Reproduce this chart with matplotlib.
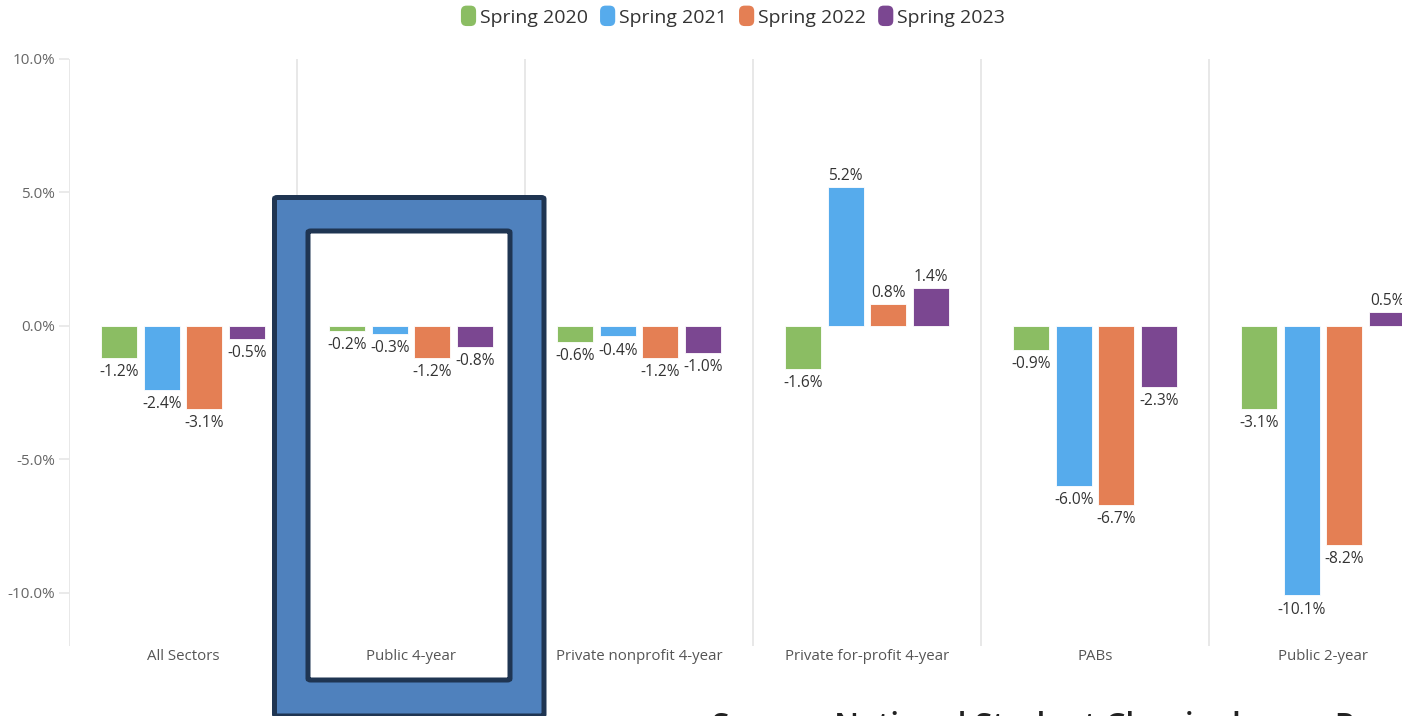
import matplotlib
matplotlib.use("Agg")
import matplotlib.pyplot as plt
from matplotlib.patches import FancyBboxPatch, Patch
from matplotlib.legend_handler import HandlerPatch
import numpy as np

plt.rcParams['font.family'] = ['Open Sans', 'DejaVu Sans']

categories = ["All Sectors", "Public 4-year", "Private nonprofit 4-year",
              "Private for-profit 4-year", "PABs", "Public 2-year"]
series_names = ["Spring 2020", "Spring 2021", "Spring 2022", "Spring 2023"]
spring2020 = [-1.2, -0.2, -0.6, -1.6, -0.9, -3.1]
spring2021 = [-2.4, -0.3, -0.4, 5.2, -6.0, -10.1]
spring2022 = [-3.1, -1.2, -1.2, 0.8, -6.7, -8.2]
spring2023 = [-0.5, -0.8, -1.0, 1.4, -2.3, 0.5]
yticks = [-10, -5, 0, 5, 10]
colors = ["#8bbd63", "#56abec", "#e47f54", "#7b4791"]

W, H = 1402, 716
fig = plt.figure(figsize=(W / 100, H / 100), dpi=100)
ax_left, ax_top, ax_bottom = 69, 59, 646
ax = fig.add_axes([ax_left / W, 1 - ax_bottom / H, 1368 / W, (ax_bottom - ax_top) / H])
ax.patch.set_alpha(0)

x = np.arange(len(categories))
bw = 0.158
step = 0.1873
data = [spring2020, spring2021, spring2022, spring2023]
for i, (vals, c) in enumerate(zip(data, colors)):
    pos = x + (i - 1.5) * step
    ax.bar(pos, vals, width=bw, color=c, zorder=3, edgecolor='white', linewidth=0.6)
    for xp, v in zip(pos, vals):
        if v < 0:
            ax.annotate(f"{v:.1f}%", (xp, v), xytext=(0, -4.5), textcoords='offset points',
                        ha='center', va='top', fontsize=11.2, color='#333333', zorder=4)
        else:
            ax.annotate(f"{v:.1f}%", (xp, v), xytext=(0, 2.5), textcoords='offset points',
                        ha='center', va='bottom', fontsize=11.2, color='#333333', zorder=4)

ax.set_xlim(-0.5, 5.5)
ax.set_ylim(-12, 10)
for b in np.arange(-0.5, 5.0, 1.0):
    ax.axvline(b, color='#e6e6e6', lw=1.3, zorder=0.5)

for s in ax.spines.values():
    s.set_visible(False)
ax.set_yticks(yticks)
ax.set_yticklabels([f"{t:.1f}%" for t in yticks])
ax.tick_params(axis='y', length=7, width=1.2, color='#e6e6e6', labelsize=11,
               labelcolor='#666666', pad=3)
ax.set_xticks(x)
ax.set_xticklabels(categories)
ax.tick_params(axis='x', length=0, pad=2.5, labelsize=10.8, labelcolor='#555555')

# highlight box around "Public 4-year" (pixel coordinates)
def px_box(x0, y0, x1, y1, fc, z):
    p = FancyBboxPatch((x0 / W, 1 - y1 / H), (x1 - x0) / W, (y1 - y0) / H,
                       boxstyle="round,pad=0,rounding_size=0.002",
                       transform=fig.transFigure, facecolor=fc, edgecolor='#1f3552',
                       linewidth=3.6, clip_on=False, zorder=z)
    ax.add_patch(p)

px_box(274.5, 197.5, 544, 716, '#4f81bd', 1)
px_box(308, 231, 510, 680, 'white', 1.1)


def rounded_handle(legend, orig_handle, xdescent, ydescent, width, height, fontsize):
    return FancyBboxPatch((-xdescent, -ydescent - 2), width, height + 4,
                          boxstyle="round,pad=0,rounding_size=4")


handles = [Patch(facecolor=c, edgecolor='none') for c in colors]
fig.legend(handles, series_names, loc='center', bbox_to_anchor=(733 / W, 1 - 17.5 / H),
           ncol=4, frameon=False, fontsize=14, handlelength=0.78, handleheight=0.8,
           handletextpad=0.2, columnspacing=0.62, labelcolor='#333333',
           handler_map={Patch: HandlerPatch(patch_func=rounded_handle)})

fig.text(712 / W, 1 - 736 / H, "Source: National Student Clearinghouse Research Center",
         fontsize=23, color='#222222', ha='left', va='baseline', fontweight='semibold')

fig.savefig("out.png", dpi=100)
